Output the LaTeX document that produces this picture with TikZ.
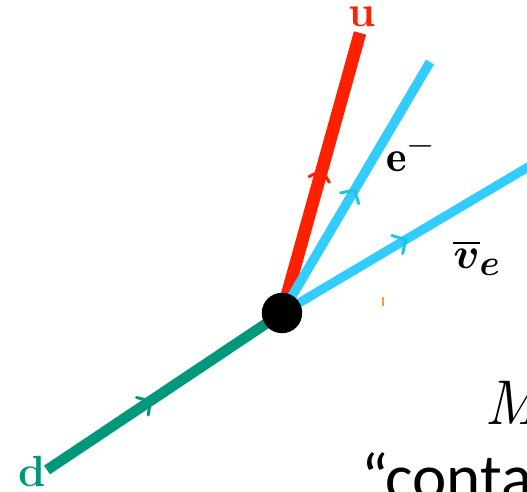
\documentclass[tikz,border=0pt]{standalone}
\usepackage{amsmath,amssymb}
\usepackage{bm}
\usepackage{fontspec}
\newfontfamily\calib{Carlito}
\usetikzlibrary{positioning,calc,decorations.markings}
\definecolor{ured}{RGB}{255,32,0}
\definecolor{lcyan}{RGB}{51,204,255}
\definecolor{acyan}{RGB}{28,200,225}
\definecolor{dgreen}{RGB}{0,152,124}
\definecolor{tickor}{RGB}{250,160,40}
\tikzset{vtx/.style={circle,fill=black,minimum size=23pt,inner sep=0pt}}
\tikzset{fline/.style={line width=#1,line cap=butt}}
\tikzset{midarr/.style 2 args={postaction={decorate},decoration={markings,mark=at position #1 with {\draw[#2,line width=1.7pt,line cap=round,line join=miter] (-5.5pt,-6pt)--(0,0)--(-5.5pt,6pt);}}}}
\tikzset{plab/.style={font=\fontsize{24.88}{27}\selectfont\bfseries,inner sep=0pt}}

\begin{document}
\begin{tikzpicture}[x=0.02cm,y=-0.02cm]
	\useasboundingbox (0,0) rectangle (527,492);
	\clip (0,0) rectangle (527,492);
		\coordinate (v) at (282,313);
			\coordinate (dend) at (47,470);
			\coordinate (uend) at (360,33);
			\coordinate (eend) at (430,62);
			\coordinate (nuend) at (545,157);

			% quarks
			\draw[ured,fline=7.2pt,midarr={0.51}{ured}] (v) -- (uend);
			\draw[dgreen,fline=6pt,midarr={0.44}{dgreen}] (dend) -- (v);
			% leptons
			\draw[lcyan,fline=5.4pt,midarr={0.49}{acyan}] (v) -- (eend);
			\draw[lcyan,fline=5.2pt,midarr={0.47}{acyan}] (v) -- (nuend);

			\node[vtx] (w) at (v) {};

				\node[plab,text=ured] (ulab) at (362,17) {u};
				\node[plab,text=dgreen] (dlab) at (32,471) {d};
				\node[plab] (elab) at (411,153) {$\mathbf{e}^{-}$};
				\node[plab] (nulab) at (477,258) {$\bm{\overline{v}_{e}}$};
				\draw[tickor,line width=0.6pt] (383,297) -- (383,306);

				\node[anchor=base west,inner sep=0pt,font=\fontsize{36}{40}\selectfont\itshape] (mm) at (484,425) {M};
				\node[anchor=base west,inner sep=0pt,font=\calib\fontsize{37}{42}\selectfont] (ct) at (361,500) {\symbol{"201C}contact};
	\end{tikzpicture}
\end{document}
